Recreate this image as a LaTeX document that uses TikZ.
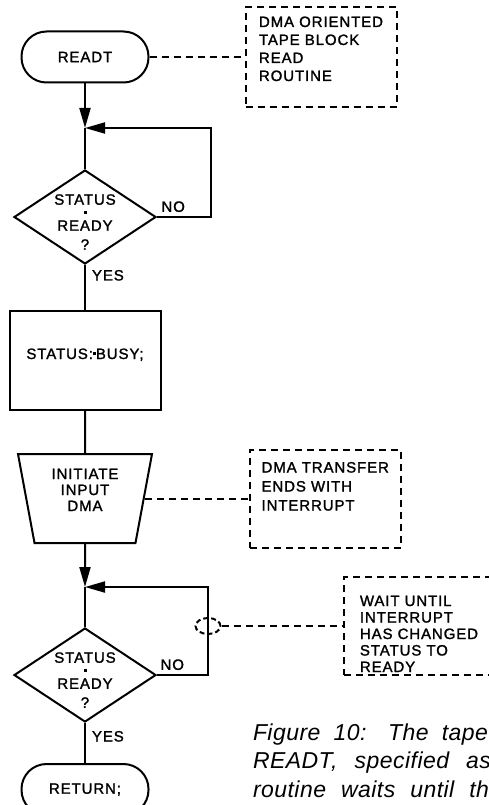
\documentclass[tikz,border=0pt]{standalone}
\usepackage{fontspec}
\newfontfamily\chartfont{Liberation Sans}[LetterSpace=6, FakeBold=1.5]
\newfontfamily\capfont{Liberation Sans}[LetterSpace=2]
\usepackage{tikz}
\usetikzlibrary{positioning,shapes.geometric,arrows.meta}

\newcommand{\cf}[1]{\chartfont\fontsize{15}{#1}\selectfont}
\newcommand{\eqdot}{\raisebox{4pt}{\rule{3pt}{3pt}}}

\begin{document}
\begin{tikzpicture}[
  x=1pt, y=-1pt,
  line width=2pt, font=\cf{17},
  term/.style={draw, rectangle, rounded corners=25pt, minimum width=127pt, minimum height=51pt},
  decision/.style={draw, diamond, minimum width=142pt, minimum height=94pt, inner sep=0pt},
  dtext/.style={font=\cf{13}, align=center, inner sep=0pt},
  box/.style={draw, rectangle, minimum width=151pt, minimum height=99pt, text height=11pt, text depth=14pt},
  io/.style={draw, trapezium, trapezium angle=75, shape border rotate=180, trapezium stretches body, minimum width=134pt, minimum height=89pt, align=center, font=\cf{16}, text height=40pt, text depth=15pt},
  note/.style={draw, dash pattern=on 7pt off 5pt, align=left, minimum width=151pt, inner ysep=0pt},
  brk/.style={draw, dash pattern=on 5pt off 3pt, ellipse, minimum width=25pt, minimum height=16pt, inner sep=0pt},
  lbl/.style={inner sep=4pt},
  arr/.style={-{Triangle[length=20pt, width=11pt]}},
  link/.style={dash pattern=on 7pt off 5pt},
  capline/.style={anchor=base west, inner sep=0pt, font=\capfont\itshape\fontsize{23}{23}\selectfont}
]
\useasboundingbox (0,0) rectangle (489,805);
\clip (0,0) rectangle (489,805);

% main column
\node[term] (readt) at (85,57) {READT};
\coordinate[below=44.5pt of readt] (j1);
\node[decision, below=85.5pt of readt, label={[dtext, yshift=-5pt]center:{STATUS\\\eqdot\\READY\\[6pt]?}}] (test1) {};
\node[box, below=45pt of test1] (busy) {STATUS:\eqdot BUSY;};
\node[io, below=42pt of busy] (dma) {INITIATE\\INPUT\\DMA};
\coordinate[below=43pt of dma] (j2);
\node[decision, below=83pt of dma, label={[dtext, yshift=-5pt]center:{STATUS\\\eqdot\\READY\\[6pt]?}}] (test2) {};
\node[term, below=40pt of test2] (ret) {RETURN;};
\node[brk] (brk) at (208,626) {};

\draw[arr] (readt) -- (j1);
\draw (j1) -- (test1);
\draw[arr] (test1.east) -- node[lbl, above, pos=0.3] {NO} ++(54,0) |- (j1);
\draw (test1) -- node[lbl, anchor=north west, pos=0, xshift=2pt] {YES} (busy);
\draw (busy) -- (dma);
\draw[arr] (dma) -- (j2);
\draw (j2) -- (test2);
\draw[arr] (test2.east) -- node[lbl, above, pos=0.3] {NO} (test2.east -| brk.center) |- (j2);
\draw (test2) -- node[lbl, anchor=north west, pos=0, xshift=2pt, yshift=-3pt] {YES} (ret);

% comments
\node[note, right=95pt of readt, text height=74pt, text depth=26pt, font=\cf{18}] (note1) {DMA ORIENTED\\TAPE BLOCK\\READ\\ROUTINE};
\node[note, right=104pt of dma, text height=61pt, text depth=37pt, font=\cf{19}] (note2) {DMA TRANSFER\\ENDS WITH\\INTERRUPT};
\node[note, right=121pt of brk, text height=95pt, text depth=3pt, font=\cf{16.5}] (note3) {WAIT UNTIL\\INTERRUPT\\HAS CHANGED\\STATUS TO\\READY};
\draw[link] (readt.east) -- (readt.east -| note1.west);
\draw[link] (dma.east) -- (dma.east -| note2.west);
\draw[link] (brk.east) -- (note3.west);

% caption
\node[capline] (cap1) at (252,740) {\makebox[235pt][s]{Figure 10: The tape}};
\node[capline] (cap2) at (252,768) {\makebox[238pt][s]{READT, specified as}};
\node[capline] (cap3) at (252,797) {\makebox[236pt][s]{routine waits until th}};
\end{tikzpicture}
\end{document}
